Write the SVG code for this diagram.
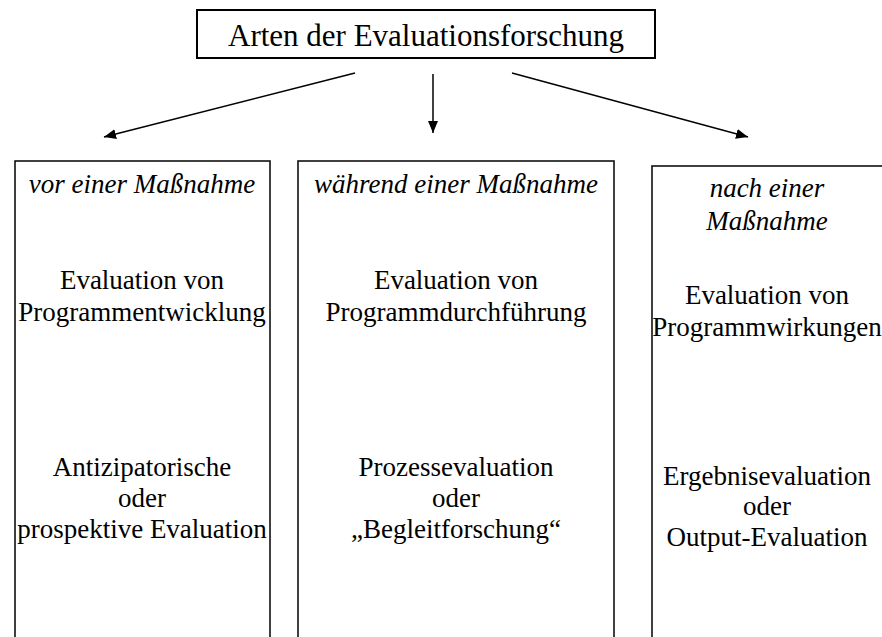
<svg xmlns="http://www.w3.org/2000/svg" width="882" height="637" viewBox="0 0 882 637">
<defs>
<marker id="ah" viewBox="0 0 12 10" refX="12" refY="5" markerWidth="12" markerHeight="10" markerUnits="userSpaceOnUse" orient="auto">
<path d="M0,0 L12,5 L0,10 Z" fill="#000"/>
</marker>
</defs>
<style>
.box{fill:#fff;stroke:#000;stroke-width:1.5}
.top{fill:#fff;stroke:#000;stroke-width:2}
text{font-family:"Liberation Serif","Times New Roman",serif;font-size:27px;fill:#000;text-anchor:middle}
.it{font-style:italic}
.title{font-size:31px}
.conn{stroke:#000;stroke-width:1.5;fill:none;marker-end:url(#ah)}
</style>
<rect width="882" height="637" fill="#fff"/>
<g id="root">
<rect class="top" x="197" y="10" width="458" height="48"/>
<text class="title" x="426" y="46">Arten der Evaluationsforschung</text>
</g>
<g id="connectors">
<line class="conn" x1="355" y1="73" x2="104" y2="137"/>
<line class="conn" x1="433" y1="74" x2="433" y2="133"/>
<line class="conn" x1="512" y1="73" x2="748" y2="137"/>
</g>
<g id="vor">
<rect class="box" x="15" y="161" width="255" height="500"/>
<text class="it" x="142" y="193">vor einer Maßnahme</text>
<text x="142" y="289">Evaluation von</text>
<text x="142" y="321">Programmentwicklung</text>
<text x="142" y="476">Antizipatorische</text>
<text x="142" y="507">oder</text>
<text x="142" y="538">prospektive Evaluation</text>
</g>
<g id="waehrend">
<rect class="box" x="298" y="161" width="316" height="500"/>
<text class="it" x="456" y="193">während einer Maßnahme</text>
<text x="456" y="289">Evaluation von</text>
<text x="456" y="321">Programmdurchführung</text>
<text x="456" y="476">Prozessevaluation</text>
<text x="456" y="507">oder</text>
<text x="456" y="538">„Begleitforschung“</text>
</g>
<g id="nach">
<rect class="box" x="652" y="166" width="260" height="500"/>
<text class="it" x="767" y="197">nach einer</text>
<text class="it" x="767" y="230">Maßnahme</text>
<text x="767" y="304">Evaluation von</text>
<text x="767" y="336">Programmwirkungen</text>
<text x="767" y="485">Ergebnisevaluation</text>
<text x="767" y="515">oder</text>
<text x="767" y="546">Output-Evaluation</text>
</g>
</svg>
